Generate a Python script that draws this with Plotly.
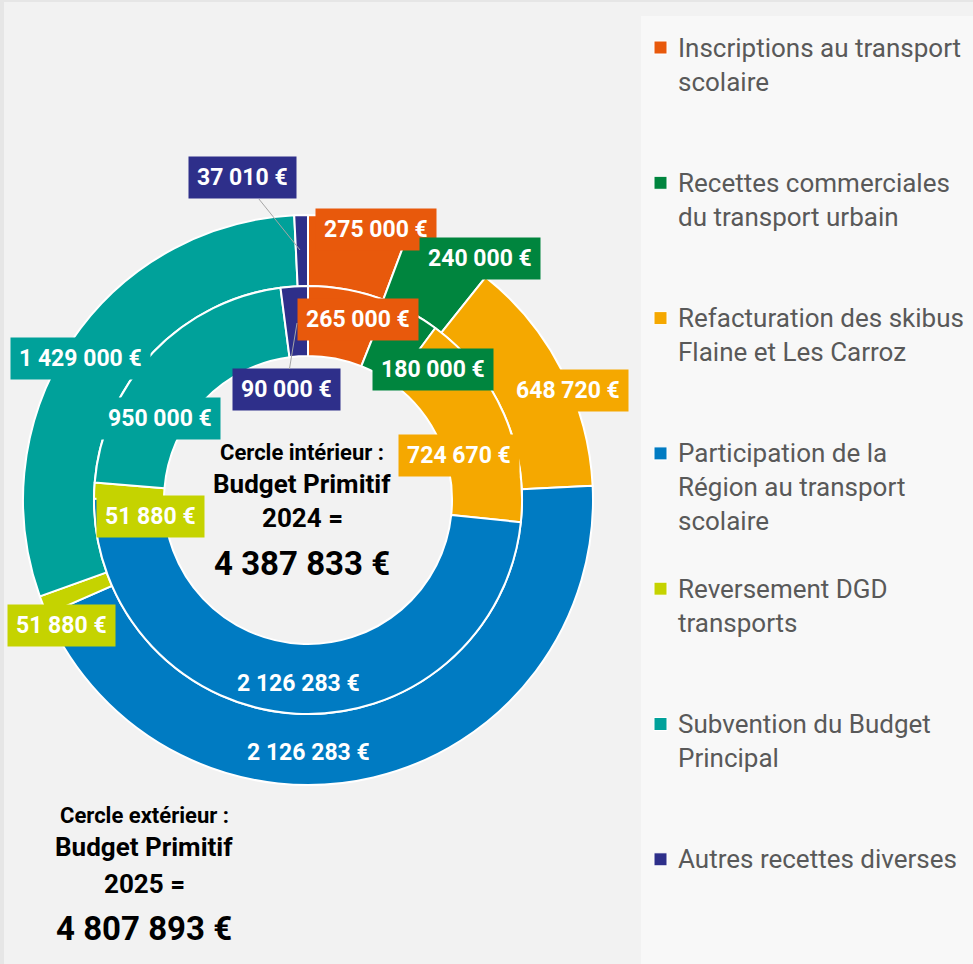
import plotly.graph_objects as go

W, H = 973, 964

# ---------------- data ----------------
categories = [
    "Inscriptions au transport scolaire",
    "Recettes commerciales du transport urbain",
    "Refacturation des skibus Flaine et Les Carroz",
    "Participation de la Région au transport scolaire",
    "Reversement DGD transports",
    "Subvention du Budget Principal",
    "Autres recettes diverses",
]
legend_text = [
    "Inscriptions au transport<br>scolaire",
    "Recettes commerciales<br>du transport urbain",
    "Refacturation des skibus<br>Flaine et Les Carroz",
    "Participation de la<br>Région au transport<br>scolaire",
    "Reversement DGD<br>transports",
    "Subvention du Budget<br>Principal",
    "Autres recettes diverses",
]
values_2025 = [275000, 240000, 648720, 2126283, 51880, 1429000, 37010]   # outer ring
values_2024 = [265000, 180000, 724670, 2126283, 51880, 950000, 90000]    # inner ring
colors = ["#E8590C", "#00853E", "#F5A800", "#007BC2", "#C5D300", "#00A19A", "#2E2F8A"]


def fmt(v):
    return f"{v:,}".replace(",", " ") + " €"


# ---------------- layout helpers (pixels -> paper) ----------------
def px(x):
    return x / W


def py(y):
    return 1 - y / H


# label box centres (pixels), boxed?, leader-line target
outer_label_pos = [
    (376, 229, True, None),
    (480, 259, True, None),
    (568, 390, True, None),
    (308, 752, False, None),
    (61, 625, True, None),
    (80, 358, True, None),
    (242, 178, True, (300, 250)),
]
inner_label_pos = [
    (358, 320, True, None),
    (433, 369, True, None),
    (459, 455, True, None),
    (298, 683, False, None),
    (150, 516, True, None),
    (160, 418, True, None),
    (286, 390, True, (297, 323)),
]

FONT = "Roboto, 'Open Sans', sans-serif"

fig = go.Figure()

fig.add_trace(go.Pie(
    labels=categories, values=values_2025, name="2025",
    marker=dict(colors=colors, line=dict(color="white", width=2)),
    hole=214 / 285, sort=False, direction="clockwise", rotation=0,
    textinfo="none", hoverinfo="label+value", showlegend=False,
    domain=dict(x=[px(23), px(593)], y=[py(785), py(215)]),
))
fig.add_trace(go.Pie(
    labels=categories, values=values_2024, name="2024",
    marker=dict(colors=colors, line=dict(color="white", width=2)),
    hole=144 / 214, sort=False, direction="clockwise", rotation=0,
    textinfo="none", hoverinfo="label+value", showlegend=False,
    domain=dict(x=[px(94), px(522)], y=[py(714), py(286)]),
))

annotations = []
for vals, positions in ((values_2025, outer_label_pos), (values_2024, inner_label_pos)):
    for v, c, (cx, cy, boxed, tip) in zip(vals, colors, positions):
        a = dict(
            text=fmt(v), xref="paper", yref="paper",
            font=dict(family=FONT, size=23, color="white", weight="bold"),
            bgcolor=c if boxed else "rgba(0,0,0,0)", borderpad=8, height=25,
            xanchor="center", yanchor="middle",
        )
        if tip is None:
            a.update(x=px(cx), y=py(cy), showarrow=False)
        else:
            a.update(x=px(tip[0]), y=py(tip[1]), showarrow=True, arrowhead=0,
                     arrowwidth=1, arrowcolor="#a6a6a6", standoff=0,
                     axref="pixel", ayref="pixel",
                     ax=cx - tip[0], ay=cy - tip[1])
        annotations.append(a)

# centre texts
total_2024 = sum(values_2024)
total_2025 = sum(values_2025)
centre_blocks = [
    (302, [("Cercle intérieur :", 22, 452), ("Budget Primitif", 26, 484),
           ("2024 =", 26, 518), (fmt(total_2024), 33, 563)]),
    (144, [("Cercle extérieur :", 22, 815), ("Budget Primitif", 26, 847),
           ("2025 =", 26, 884), (fmt(total_2025), 33, 928)]),
]
for cx, lines in centre_blocks:
    for txt, size, cy in lines:
        annotations.append(dict(
            text=txt, x=px(cx), y=py(cy), xref="paper", yref="paper",
            showarrow=False, xanchor="center", yanchor="middle",
            font=dict(family=FONT, size=size, color="black", weight="bold"),
        ))

# legend (manual, to keep the wide, top-aligned spacing)
shapes = [
    dict(type="rect", xref="paper", yref="paper", x0=px(641), x1=1, y0=0, y1=py(16),
         fillcolor="#f8f8f8", line=dict(width=0), layer="below"),
    dict(type="rect", xref="paper", yref="paper", x0=0, x1=px(4), y0=0, y1=1,
         fillcolor="#e6e6e6", line=dict(width=0), layer="below"),
    dict(type="rect", xref="paper", yref="paper", x0=0, x1=1, y0=py(2), y1=1,
         fillcolor="#e6e6e6", line=dict(width=0), layer="below"),
]
step = 135.3
for i, (txt, c) in enumerate(zip(legend_text, colors)):
    yc = 47.5 + i * step
    shapes.append(dict(type="rect", xref="paper", yref="paper",
                       x0=px(654), x1=px(667), y0=py(yc + 6.5), y1=py(yc - 6.5),
                       fillcolor=c, line=dict(color="white", width=1)))
    annotations.append(dict(
        text=txt, x=px(676), y=py(yc - 17), xref="paper", yref="paper",
        showarrow=False, xanchor="left", yanchor="top", align="left",
        font=dict(family=FONT, size=26, color="#595959"),
    ))

fig.update_layout(
    width=W, height=H, margin=dict(l=0, r=0, t=0, b=0),
    paper_bgcolor="#f2f2f2", plot_bgcolor="#f2f2f2",
    annotations=annotations, shapes=shapes,
)

fig.write_html(
    "out.html",
    config={"displayModeBar": False},
    post_script="document.body.style.margin='0';document.body.style.background='#f2f2f2';",
)
